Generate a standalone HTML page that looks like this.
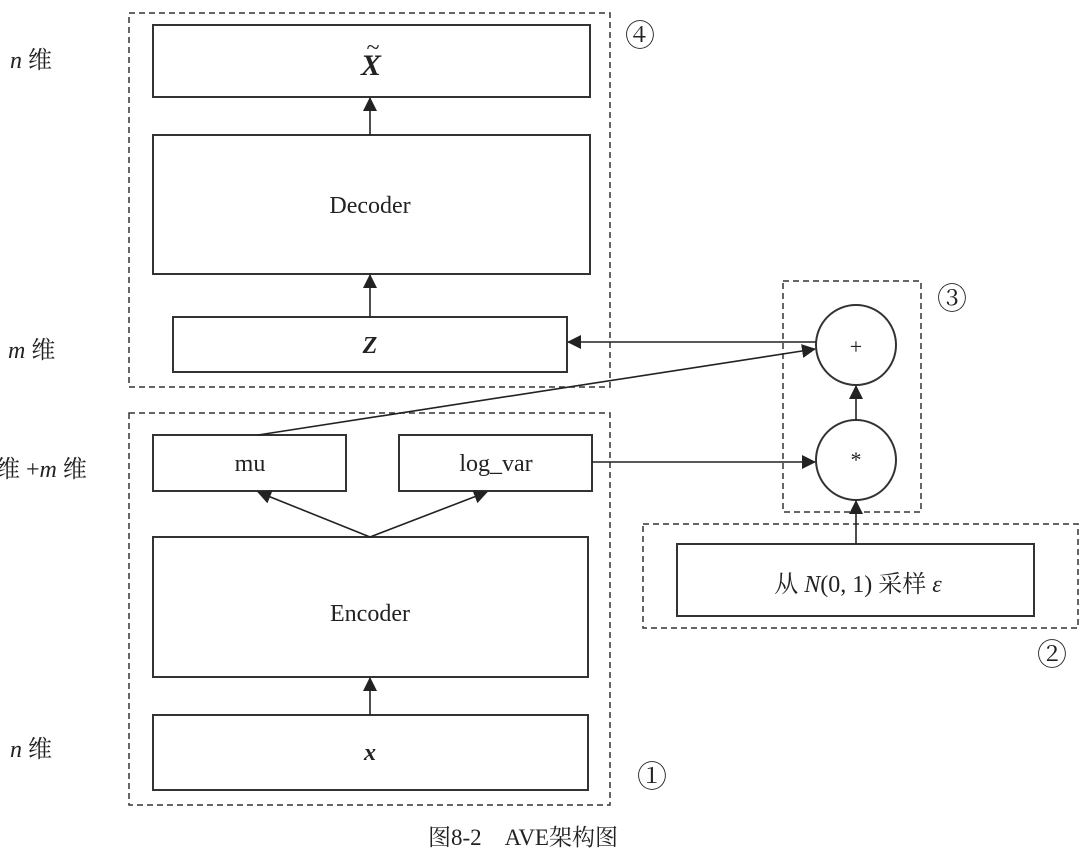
<!DOCTYPE html><html><head><meta charset="utf-8"><style>body{margin:0;background:#fff}svg{display:block}text{font-family:"Liberation Serif","Noto Serif CJK SC",serif;fill:#222}</style></head><body>
<svg width="1085" height="855" viewBox="0 0 1085 855">
<defs><marker id="a" markerWidth="14" markerHeight="14" refX="13" refY="7" orient="auto" markerUnits="userSpaceOnUse"><path d="M0,0L14,7L0,14z" fill="#222"/></marker></defs>
<g fill="none" stroke="#333" stroke-width="1.5" stroke-dasharray="6,4">
<rect x="129" y="13" width="481" height="374"/>
<rect x="129" y="413" width="481" height="392"/>
<rect x="783" y="281" width="138" height="231"/>
<rect x="643" y="524" width="435" height="104"/>
</g>
<g fill="#fff" stroke="#333" stroke-width="2">
<rect x="153" y="25" width="437" height="72"/>
<rect x="153" y="135" width="437" height="139"/>
<rect x="173" y="317" width="394" height="55"/>
<rect x="153" y="435" width="193" height="56"/>
<rect x="399" y="435" width="193" height="56"/>
<rect x="153" y="537" width="435" height="140"/>
<rect x="153" y="715" width="435" height="75"/>
<rect x="677" y="544" width="357" height="72"/>
<circle cx="856" cy="345" r="40"/>
<circle cx="856" cy="460" r="40"/>
</g>
<g stroke="#222" stroke-width="1.6" fill="none" marker-end="url(#a)">
<line x1="370" y1="135" x2="370" y2="98"/>
<line x1="370" y1="317" x2="370" y2="275"/>
<line x1="370" y1="715" x2="370" y2="678"/>
<line x1="370" y1="537" x2="258" y2="492"/>
<line x1="370" y1="537" x2="487" y2="492"/>
<line x1="816" y1="342" x2="568" y2="342"/>
<line x1="258" y1="435" x2="815" y2="349"/>
<line x1="592" y1="462" x2="815" y2="462"/>
<line x1="856" y1="420" x2="856" y2="386"/>
<line x1="856" y1="544" x2="856" y2="501"/>
</g>
<g font-size="24" text-anchor="middle">
<text x="371" y="75" font-weight="bold" font-style="italic" font-size="30">X</text>
<text x="373" y="55" font-size="24">~</text>
<text x="370" y="213">Decoder</text>
<text x="370" y="353" font-weight="bold" font-style="italic">Z</text>
<text x="250" y="471">mu</text>
<text x="496" y="471">log_var</text>
<text x="370" y="621">Encoder</text>
<text x="370" y="760" font-weight="bold" font-style="italic">x</text>
<text x="856" y="354" font-size="22">+</text>
<text x="856" y="467" font-size="22">*</text>
<text x="858" y="592">从 <tspan font-style="italic">N</tspan>(0, 1) 采样 <tspan font-style="italic">ε</tspan></text>
<g font-size="30" style="font-family:'Noto Serif CJK SC','Noto Sans CJK SC',serif">
<text x="640" y="46">④</text>
<text x="952" y="309">③</text>
<text x="1052" y="665">②</text>
<text x="652" y="787">①</text>
</g>
<text x="523" y="845" font-size="23">图8-2　AVE架构图</text>
</g>
<g font-size="24">
<text x="10" y="68"><tspan font-style="italic">n</tspan> 维</text>
<text x="8" y="358"><tspan font-style="italic">m</tspan> 维</text>
<text x="-4" y="477">维 +<tspan font-style="italic">m</tspan> 维</text>
<text x="10" y="757"><tspan font-style="italic">n</tspan> 维</text>
</g>
</svg></body></html>
